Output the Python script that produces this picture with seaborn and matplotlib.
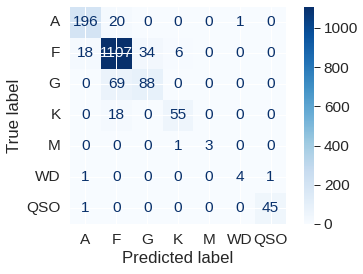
import numpy as np
import pandas as pd
import matplotlib
matplotlib.use("Agg")
import matplotlib.pyplot as plt
import seaborn as sns

# Confusion matrix values (rows = true, cols = predicted)
labels = ["A", "F", "G", "K", "M", "WD", "QSO"]
row_A = [196, 20, 0, 0, 0, 1, 0]
row_F = [18, 1107, 34, 6, 0, 0, 0]
row_G = [0, 69, 88, 0, 0, 0, 0]
row_K = [0, 18, 0, 55, 0, 0, 0]
row_M = [0, 0, 0, 1, 3, 0, 0]
row_WD = [1, 0, 0, 0, 0, 4, 1]
row_QSO = [1, 0, 0, 0, 0, 0, 45]
cbar_ticks = [0, 200, 400, 600, 800, 1000]

cm = pd.DataFrame([row_A, row_F, row_G, row_K, row_M, row_WD, row_QSO],
                  index=labels, columns=labels)

sns.set_theme(style="darkgrid", font_scale=1.4)
plt.rcParams["font.family"] = ["Liberation Sans", "DejaVu Sans"]

fig = plt.figure(figsize=(363 / 72, 274 / 72), dpi=72)
ax = fig.add_axes([0.193, 0.1825, 0.595, 0.792])
cax = fig.add_axes([0.837, 0.1825, 0.029, 0.792])

cmap = plt.get_cmap("Blues")
sns.heatmap(cm, ax=ax, cbar_ax=cax, cmap=cmap, annot=True, fmt="d",
            annot_kws={"size": 15.4}, vmin=0, vmax=cm.values.max(),
            cbar_kws={"ticks": cbar_ticks})

# sklearn-style text colours
thresh = (cm.values.max() + cm.values.min()) / 2
for t, v in zip(ax.texts, cm.values.ravel()):
    t.set_color(cmap(0.0) if v > thresh else cmap(1.0))

ax.set_axisbelow(False)
ax.grid(True, color="white", linewidth=1)
ax.set_xlabel("Predicted label")
ax.set_ylabel("True label")
ax.tick_params(axis="y", rotation=0)
ax.tick_params(axis="x", rotation=0)

cax.tick_params(right=True, length=6, width=1, color=".15")
cax.grid(False)

fig.savefig("out.png", dpi=72)
